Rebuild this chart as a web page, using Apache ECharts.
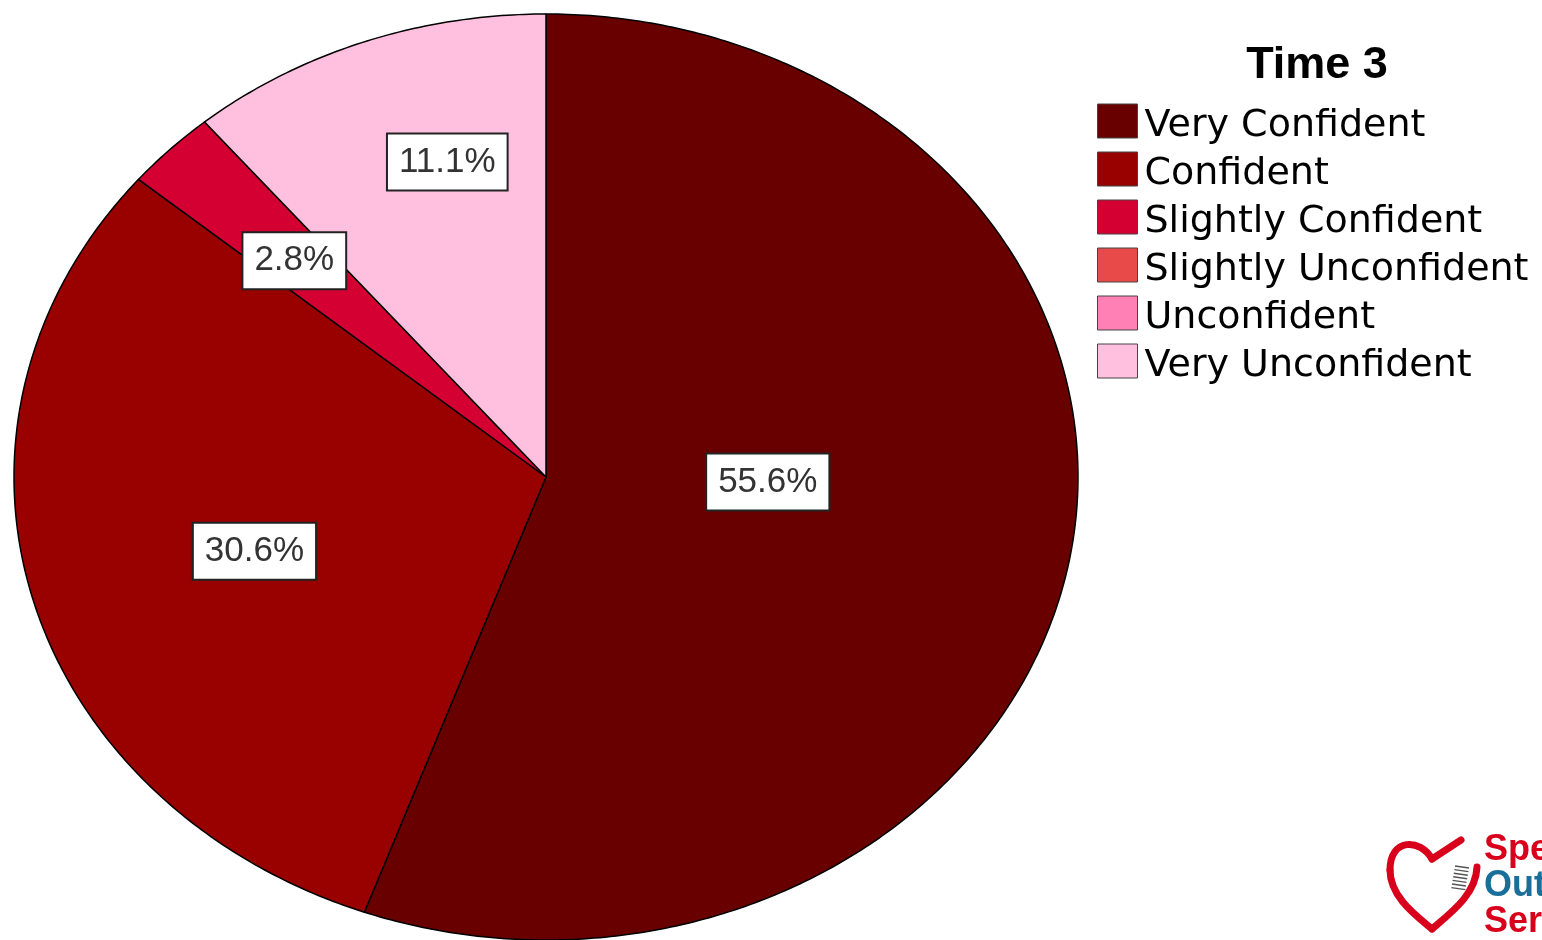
<!DOCTYPE html>
<html>
<head>
<meta charset="utf-8">
<title>Time 3</title>
<script src="https://cdn.jsdelivr.net/npm/echarts@6/dist/echarts.min.js"></script>
<style>
  html, body { margin: 0; padding: 0; background: #fff; }
  #chart { width: 1542px; height: 940px; }
</style>
</head>
<body>
<div id="chart"></div>
<script>
// Response categories and their share of respondents (%)
const categories = ['Very Confident', 'Confident', 'Slightly Confident', 'Slightly Unconfident', 'Unconfident', 'Very Unconfident'];
const percents = [55.6, 30.6, 2.8, 0, 0, 11.1];
const chartTitle = 'Time 3';

// Styling
const palette = ['#680000', '#990000', '#d40032', '#e84a4a', '#ff80b4', '#ffc0e0'];
const pie = { cx: 546, cy: 477, rx: 532, ry: 463 };   // elliptical pie geometry
const labelReach = [0.417, 0.571, 0.665, 0, 0, 0.705]; // label distance as fraction of radius
const labelTurn = [-8.5, -1.3, -0.4, 0, 0, 4.7];       // label angle nudge from slice middle (deg)

const total = percents.reduce((a, b) => a + b, 0);
const starts = [];
percents.reduce((acc, v, i) => { starts[i] = acc; return acc + v; }, 0);

// point on the ellipse, angle measured clockwise from 12 o'clock
function ellPoint(frac, reach, turnDeg) {
  const t = frac / total * Math.PI * 2 + (turnDeg || 0) * Math.PI / 180;
  return [pie.cx + reach * pie.rx * Math.sin(t), pie.cy - reach * pie.ry * Math.cos(t)];
}

function sectorItem(params, api) {
  const start = api.value(0), val = api.value(1);
  if (!(val > 0)) return null;
  const steps = Math.max(8, Math.ceil(val * 6));
  const pts = [[pie.cx, pie.cy]];
  for (let k = 0; k <= steps; k++) pts.push(ellPoint(start + val * k / steps, 1));
  return {
    type: 'polygon',
    shape: { points: pts },
    style: { fill: api.visual('color'), stroke: '#000', lineWidth: 1.5, lineJoin: 'round' }
  };
}

function labelItem(params, api) {
  const start = api.value(0), val = api.value(1), idx = api.value(2);
  if (!(val > 0)) return null;
  const p = ellPoint(start + val / 2, labelReach[idx], labelTurn[idx]);
  return {
    type: 'text',
    x: p[0], y: p[1],
    style: {
      text: val.toFixed(1) + '%',
      align: 'center', verticalAlign: 'middle',
      fontFamily: 'Liberation Sans, Arial, sans-serif', fontSize: 35, lineHeight: 36,
      fill: '#333',
      backgroundColor: '#fff', borderColor: '#222', borderWidth: 2,
      padding: [10, 11, 9, 11]
    }
  };
}

const series = categories.map((name, i) => ({
  type: 'custom',
  name: name,
  coordinateSystem: 'none',
  itemStyle: { color: palette[i] },
  renderItem: sectorItem,
  data: [[starts[i], percents[i]]],
  silent: true
}));
series.push({
  type: 'custom',
  name: 'labels',
  coordinateSystem: 'none',
  z: 10,
  renderItem: labelItem,
  data: percents.map((v, i) => [starts[i], v, i]),
  silent: true
});

// logo in the lower right corner (heart with toothbrush)
const logoRed = '#d9001b', logoBlue = '#1a6e9a';
const heartStroke = { fill: 'none', stroke: logoRed, lineWidth: 7, lineCap: 'round', lineJoin: 'round' };
const logoFont = 'Liberation Sans, Arial, sans-serif';
const logo = [
  { type: 'polyline', shape: { points: [[1461, 840], [1432, 859]] }, style: heartStroke },
  { type: 'bezierCurve', shape: { x1: 1432, y1: 859, cpx1: 1420, cpy1: 838, cpx2: 1390, cpy2: 838, x2: 1390, y2: 870 }, style: heartStroke },
  { type: 'bezierCurve', shape: { x1: 1390, y1: 870, cpx1: 1390, cpy1: 896, cpx2: 1414, cpy2: 914, x2: 1432, y2: 929 }, style: heartStroke },
  { type: 'bezierCurve', shape: { x1: 1432, y1: 929, cpx1: 1452, cpy1: 912, cpx2: 1476, cpy2: 894, x2: 1477, y2: 867 }, style: heartStroke }
];
for (let k = 0; k < 7; k++) {
  logo.push({ type: 'line', shape: { x1: 1455 - k * 0.6, y1: 866 + k * 3.6, x2: 1469 - k * 0.6, y2: 868 + k * 3.6 }, style: { stroke: '#555', lineWidth: 1.4 } });
}
[['Spe', 832, logoRed], ['Out', 868, logoBlue], ['Ser', 904, logoRed]].forEach(([t, y, c]) => {
  logo.push({ type: 'text', x: 1484, y: y, style: { text: t, fontFamily: logoFont, fontWeight: 'bold', fontSize: 36, fill: c } });
});

const chart = echarts.init(document.getElementById('chart'), null, { renderer: 'canvas' });
chart.setOption({
  backgroundColor: '#fff',
  animation: false,
  color: palette,
  title: {
    text: chartTitle,
    left: 1312, top: 38, textAlign: 'center',
    textStyle: { fontFamily: 'Liberation Sans, Arial, sans-serif', fontWeight: 'bold', fontSize: 45, color: '#000' }
  },
  legend: {
    data: categories,
    orient: 'vertical',
    left: 1097, top: 97,
    padding: 0,
    itemWidth: 40, itemHeight: 34, itemGap: 0,
    icon: 'rect',
    selectedMode: false,
    itemStyle: { borderColor: '#444', borderWidth: 1 },
    formatter: '{t|{name}}',
    textStyle: {
      rich: {
        t: { fontFamily: 'DejaVu Sans, Verdana, sans-serif', fontSize: 38, lineHeight: 38, color: '#000', padding: [10, 0, 0, 2] }
      }
    }
  },
  graphic: logo,
  series: series
});
</script>
</body>
</html>
